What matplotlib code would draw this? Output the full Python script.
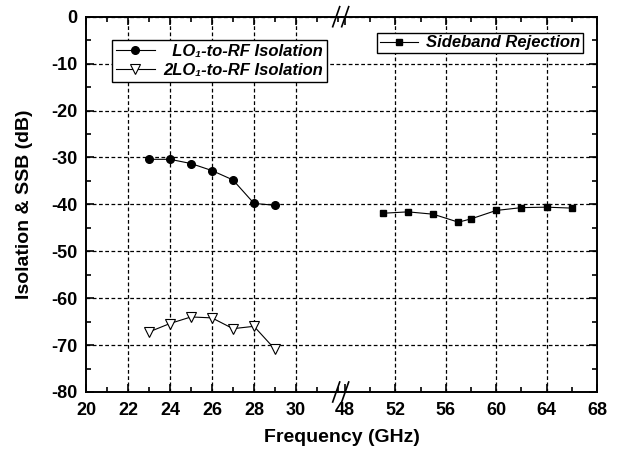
import matplotlib
matplotlib.use("Agg")
import matplotlib.pyplot as plt
from matplotlib.lines import Line2D
from matplotlib.ticker import MultipleLocator

plt.rcParams['font.family'] = ['Liberation Sans', 'DejaVu Sans']
plt.rcParams['font.weight'] = 'bold'
plt.rcParams['axes.unicode_minus'] = False

# ---- data ----------------------------------------------------------------
lo_freq = [23, 24, 25, 26, 27, 28, 29]
lo_iso = [-30.4, -30.4, -31.3, -32.8, -34.8, -39.8, -40.2]

lo2_freq = [23, 24, 25, 26, 27, 28, 29]
lo2_iso = [-67.2, -65.4, -64.0, -64.2, -66.5, -66.0, -70.9]

sb_freq = [51, 53, 55, 57, 58, 60, 62, 64, 66]
sb_rej = [-41.9, -41.6, -42.1, -43.8, -43.1, -41.3, -40.7, -40.6, -40.8]

left_ticks = [20, 22, 24, 26, 28, 30]
right_ticks = [48, 52, 56, 60, 64, 68]

W, H = 621, 451
fig = plt.figure(figsize=(W / 100, H / 100), dpi=100)
L, R, MID = 86 / W, 597 / W, 341.5 / W
B, T = 1 - 392 / H, 1 - 16.7 / H
ax1 = fig.add_axes([L, B, MID - L, T - B])
ax2 = fig.add_axes([MID, B, R - MID, T - B])

ax1.set_xlim(20, 20 + 255.5 / 21)
ax2.set_xlim(48 - 3.5 / 12.6, 68)

grid_kw = dict(color='black', linestyle=(0, (3, 2)), linewidth=0.9)
for ax in (ax1, ax2):
    ax.set_ylim(-80, 0)
    ax.yaxis.set_major_locator(MultipleLocator(10))
    ax.yaxis.set_minor_locator(MultipleLocator(5))
    ax.grid(True, which='major', **grid_kw)
    ax.tick_params(which='both', direction='in', top=True, width=1.2,
                   labelsize=13)
    ax.tick_params(which='major', length=6)
    ax.tick_params(which='minor', length=3.5)
    ax.tick_params(axis='x', pad=7)
    for s in ax.spines.values():
        s.set_linewidth(1.4)

ax1.set_xticks(left_ticks)
ax1.xaxis.set_minor_locator(MultipleLocator(1))
ax1.spines['right'].set_visible(False)
ax1.tick_params(axis='y', which='both', right=False, pad=6)
ax1.xaxis.get_gridlines()[0].set_visible(False)

ax2.set_xticks(right_ticks)
ax2.xaxis.set_minor_locator(MultipleLocator(2))
ax2.spines['left'].set_visible(False)
ax2.tick_params(axis='y', which='both', left=False, right=True, labelleft=False)
gl = ax2.xaxis.get_gridlines()
gl[0].set_visible(False)
gl[-1].set_visible(False)

ax1.plot(lo_freq, lo_iso, '-', color='black', lw=0.8, marker='o', ms=5.5,
         label='  LO\u2081-to-RF Isolation')
ax1.plot(lo2_freq, lo2_iso, '-', color='black', lw=0.8, marker='v', ms=7,
         mfc='white', mec='black', mew=0.8, label='2LO\u2081-to-RF Isolation')
ax2.plot(sb_freq, sb_rej, '-', color='black', lw=0.8, marker='s', ms=4.5,
         label='Sideband Rejection')

leg_kw = dict(loc='upper left', fancybox=False, edgecolor='black',
              framealpha=1, borderaxespad=0, handlelength=2.3,
              handletextpad=0.5, prop=dict(style='italic', weight='bold', size=12))
lg1 = ax1.legend(bbox_to_anchor=(112 / W, 1 - 40 / H),
                 bbox_transform=fig.transFigure, labelspacing=0.2,
                 borderpad=0.25, **leg_kw)
lg2 = ax2.legend(bbox_to_anchor=(377 / W, 1 - 33 / H),
                 bbox_transform=fig.transFigure, borderpad=0.15, **leg_kw)
for lg in (lg1, lg2):
    lg.get_frame().set_linewidth(1.0)

# break marks on the axis
for yc in (392, 16.7):
    for x0 in (332.7, 341.7):
        fig.add_artist(Line2D([x0 / W, (x0 + 7) / W],
                              [1 - (yc + 10) / H, 1 - (yc - 10) / H],
                              transform=fig.transFigure, color='black', lw=1.2))

fig.text(25 / W, (B + T) / 2, 'Isolation & SSB (dB)', rotation=90,
         ha='center', va='center', fontsize=14, fontweight='bold')
fig.text((L + R) / 2, 1 - 437 / H, 'Frequency (GHz)', ha='center',
         va='center', fontsize=14, fontweight='bold')

fig.savefig('out.png', dpi=100)
